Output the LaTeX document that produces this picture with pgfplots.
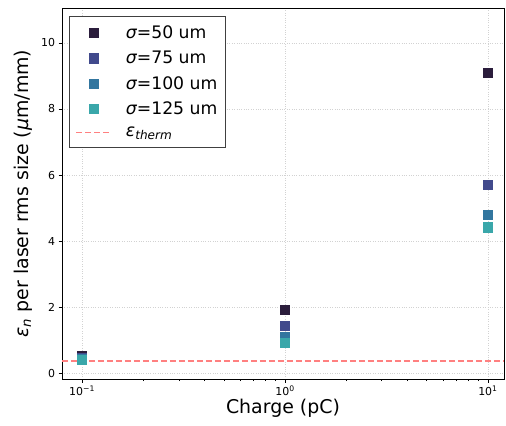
\documentclass[border=0pt]{standalone}
\usepackage{fontspec}
\setmainfont{DejaVu Sans}
\usepackage{pgfplots}
\pgfplotsset{compat=1.18}

\definecolor{c50}{HTML}{2B1D3C}
\definecolor{c75}{HTML}{414A8C}
\definecolor{c100}{HTML}{32769F}
\definecolor{c125}{HTML}{3AA7AA}
\definecolor{therm}{HTML}{FF8080}

\begin{document}
\begin{tikzpicture}
\begin{axis}[
  at={(0,0)}, anchor=south west,
  scale only axis,
  width=442bp, height=371bp,
  xmode=log,
  xmin=0.0797, xmax=12.0,
  ymin=-0.18, ymax=11.06,
  xtick={0.1,1,10},
  xticklabels={10\textsuperscript{−1},10\textsuperscript{0},10\textsuperscript{1}},
  ytick={0,2,4,6,8,10},
  /pgf/number format/assume math mode=true,
  tick label style={font=\fontsize{11}{13}\selectfont},
  tick align=outside,
  major tick length=3.5bp,
  minor tick length=2bp,
  tick style={black, line width=0.7pt},
  xtick pos=bottom, ytick pos=left,
  axis line style={black, line width=0.8pt},
  xmajorgrids, ymajorgrids,
  grid style={gray!35, dotted, line width=0.7pt},
  label style={font=\fontsize{19}{22}\selectfont},
  xlabel={Charge (pC)},
  ylabel={{\itshape ε}\textsubscript{\itshape n} per laser rms size ({\itshape μ}m/mm)},
  xlabel style={at={(axis description cs:0.5,0)}, anchor=north, yshift=-17bp},
  ylabel style={at={(axis description cs:0,0.5)}, anchor=south, yshift=26bp},
  legend cell align=left,
  legend style={at={(0.016,0.978)}, anchor=north west, draw=black!75, line width=0.6pt,
    font=\fontsize{17.3}{19}\selectfont, row sep=7bp, inner xsep=6bp, inner ysep=7.5bp,
    /tikz/every odd column/.append style={column sep=12bp}},
  legend image code/.code={\draw[#1, mark repeat=2, mark phase=2] plot coordinates {(0bp,0bp) (17.5bp,0bp) (35bp,0bp)};},
]
\addplot[only marks, mark=square*, mark size=4.6bp, color=c50] coordinates {(0.1,0.53) (1,1.92) (10,9.1)};
\addlegendentry{{\itshape σ}=50 um}
\addplot[only marks, mark=square*, mark size=4.6bp, color=c75] coordinates {(0.1,0.45) (1,1.43) (10,5.7)};
\addlegendentry{{\itshape σ}=75 um}
\addplot[only marks, mark=square*, mark size=4.6bp, color=c100] coordinates {(0.1,0.42) (1,1.1) (10,4.8)};
\addlegendentry{{\itshape σ}=100 um}
\addplot[only marks, mark=square*, mark size=4.6bp, color=c125] coordinates {(0.1,0.4) (1,0.92) (10,4.42)};
\addlegendentry{{\itshape σ}=125 um}
\addplot[therm, dash pattern=on 6bp off 3bp, line width=1.6pt, mark=none] coordinates {(0.0797,0.36) (12.0,0.36)};
\addlegendentry{{\itshape ε}\textsubscript{\itshape therm}}
\end{axis}
\pgfresetboundingbox
\path (-62bp,-47bp) rectangle (444bp,379bp);
\end{tikzpicture}
\end{document}
